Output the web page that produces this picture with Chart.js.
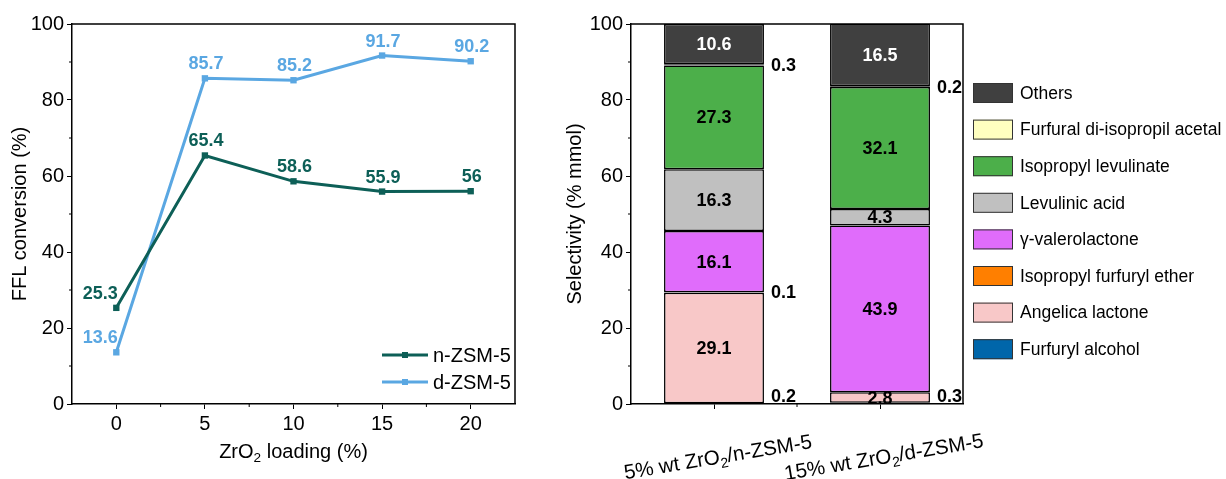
<!DOCTYPE html>
<html>
<head>
<meta charset="utf-8">
<script src="https://cdn.jsdelivr.net/npm/chart.js@4.4.1/dist/chart.umd.min.js"></script>
<style>
  body { margin: 0; background: #fff; }
  #wrap { position: relative; width: 1226px; height: 479px; }
  #left { position: absolute; left: 0; top: 0; width: 545px; height: 479px; }
  #right { position: absolute; left: 545px; top: 0; width: 681px; height: 479px; }
</style>
</head>
<body>
<div id="wrap">
  <div id="left"><canvas id="conversion-chart"></canvas></div>
  <div id="right"><canvas id="selectivity-chart"></canvas></div>
</div>
<script>
// --------------- data --------------- //

// FFL conversion vs ZrO2 loading
const loadings = [0, 5, 10, 15, 20];
const nZsmConversion = [25.3, 65.4, 58.6, 55.9, 56];
const dZsmConversion = [13.6, 85.7, 85.2, 91.7, 90.2];
const percentTicks = [0, 20, 40, 60, 80, 100];
const percentMinorTicks = [10, 30, 50, 70, 90];
const loadingMinorTicks = [2.5, 7.5, 12.5, 17.5];

// product selectivity, stacked bottom -> top
const catalysts = ['5% wt ZrO₂/n-ZSM-5', '15% wt ZrO₂/d-ZSM-5'];
const products = [
  'Furfuryl alcohol',
  'Angelica lactone',
  'Isopropyl furfuryl ether',
  'γ-valerolactone',
  'Levulinic acid',
  'Isopropyl levulinate',
  'Furfural di-isopropil acetal',
  'Others'
];
const furfurylAlcohol = [0.2, 0.3];
const angelicaLactone = [29.1, 2.8];
const isopropylEther = [0.1, 0];
const valerolactone = [16.1, 43.9];
const levulinicAcid = [16.3, 4.3];
const isopropylLevulinate = [27.3, 32.1];
const diisopropylAcetal = [0.3, 0.2];
const others = [10.6, 16.5];

const FONT = '"Liberation Sans", Arial, sans-serif';
const TEAL = '#0d5f57';
const SKY = '#5aa7e2';

Chart.defaults.font.family = FONT;
Chart.defaults.color = '#000';

// draws text, turning '₂' into a real lowered subscript
function drawRich(ctx, text, x, y, size, align) {
  const parts = text.split('₂');
  const subSize = size * 0.68;
  const font = size + 'px ' + FONT;
  const subFont = subSize + 'px ' + FONT;
  let total = 0;
  parts.forEach((p, i) => {
    ctx.font = font;
    total += ctx.measureText(p).width;
    if (i < parts.length - 1) {
      ctx.font = subFont;
      total += ctx.measureText('2').width;
    }
  });
  let cx = align === 'center' ? x - total / 2 : x;
  ctx.textAlign = 'left';
  ctx.textBaseline = 'middle';
  parts.forEach((p, i) => {
    ctx.font = font;
    ctx.fillText(p, cx, y);
    cx += ctx.measureText(p).width;
    if (i < parts.length - 1) {
      ctx.font = subFont;
      ctx.fillText('2', cx, y + size * 0.32);
      cx += ctx.measureText('2').width;
    }
  });
}

// frame + minor ticks
function frameAndMinor(xMinor, yMinor) {
  return {
    id: 'frameAndMinor',
    afterDraw(chart) {
      const { ctx, chartArea: a, scales } = chart;
      ctx.save();
      ctx.strokeStyle = '#000';
      ctx.lineWidth = 1.5;
      ctx.beginPath();
      ctx.moveTo(a.left, a.top);
      ctx.lineTo(a.right, a.top);
      ctx.lineTo(a.right, a.bottom);
      ctx.stroke();
      ctx.lineWidth = 1;
      ctx.beginPath();
      xMinor(chart).forEach(px => {
        ctx.moveTo(px, a.bottom);
        ctx.lineTo(px, a.bottom + 3);
      });
      yMinor.forEach(v => {
        const py = scales.y.getPixelForValue(v);
        ctx.moveTo(a.left, py);
        ctx.lineTo(a.left - 3, py);
      });
      ctx.stroke();
      ctx.restore();
    }
  };
}

const axisGrid = { display: true, drawOnChartArea: false, tickLength: 5, color: '#000', lineWidth: 1 };
const axisBorder = { display: true, color: '#000', width: 1.5 };

// --------------- conversion line chart --------------- //

const conversionLabels = {
  id: 'conversionLabels',
  afterDatasetsDraw(chart) {
    const { ctx } = chart;
    ctx.save();
    ctx.font = 'bold 18px ' + FONT;
    ctx.textAlign = 'center';
    ctx.textBaseline = 'middle';
    chart.data.datasets.forEach((ds, di) => {
      ctx.fillStyle = ds.borderColor;
      chart.getDatasetMeta(di).data.forEach((pt, i) => {
        const dx = i === 0 ? -16 : 1;
        ctx.fillText(String(ds.data[i].y), pt.x + dx, pt.y - 14);
      });
    });
    ctx.restore();
  }
};

const conversionDecor = {
  id: 'conversionDecor',
  afterDraw(chart) {
    const { ctx, chartArea: a } = chart;
    ctx.save();
    ctx.fillStyle = '#000';
    // legend
    chart.data.datasets.forEach((ds, i) => {
      const y = a.bottom - 49 + i * 27;
      ctx.strokeStyle = ds.borderColor;
      ctx.lineWidth = 3;
      ctx.beginPath();
      ctx.moveTo(a.right - 133, y);
      ctx.lineTo(a.right - 87, y);
      ctx.stroke();
      ctx.fillStyle = ds.borderColor;
      ctx.fillRect(a.right - 113, y - 3, 6, 6);
      ctx.fillStyle = '#000';
      ctx.font = '20px ' + FONT;
      ctx.textAlign = 'left';
      ctx.textBaseline = 'middle';
      ctx.fillText(ds.label, a.right - 82, y + 1);
    });
    // axis titles
    drawRich(ctx, 'ZrO₂ loading (%)', (a.left + a.right) / 2, 452, 20, 'center');
    ctx.translate(20, (a.top + a.bottom) / 2);
    ctx.rotate(-Math.PI / 2);
    ctx.font = '20px ' + FONT;
    ctx.textAlign = 'center';
    ctx.textBaseline = 'middle';
    ctx.fillText('FFL conversion (%)', 0, 0);
    ctx.restore();
  }
};

const conversionChart = new Chart(document.getElementById('conversion-chart'), {
  type: 'line',
  data: {
    datasets: [
      {
        label: 'n-ZSM-5',
        data: loadings.map((x, i) => ({ x: x, y: nZsmConversion[i] })),
        borderColor: TEAL,
        backgroundColor: TEAL,
        borderWidth: 3,
        pointStyle: 'rect',
        pointRadius: 4.5,
        pointBorderWidth: 0,
      },
      {
        label: 'd-ZSM-5',
        data: loadings.map((x, i) => ({ x: x, y: dZsmConversion[i] })),
        borderColor: SKY,
        backgroundColor: SKY,
        borderWidth: 3,
        pointStyle: 'rect',
        pointRadius: 4.5,
        pointBorderWidth: 0,
      }
    ]
  },
  options: {
    responsive: true,
    maintainAspectRatio: false,
    animation: false,
    layout: { padding: { top: 24, right: 30, left: 0, bottom: 0 } },
    plugins: {
      legend: { display: false },
      tooltip: { enabled: false }
    },
    scales: {
      x: {
        type: 'linear',
        min: -2.5,
        max: 22.5,
        afterBuildTicks: s => { s.ticks = loadings.map(v => ({ value: v })); },
        afterFit: s => { s.height = 75; },
        ticks: { font: { size: 20 }, padding: 3, maxRotation: 0 },
        grid: axisGrid,
        border: axisBorder
      },
      y: {
        min: 0,
        max: 100,
        afterBuildTicks: s => { s.ticks = percentTicks.map(v => ({ value: v })); },
        afterFit: s => { s.width = 72; },
        ticks: { font: { size: 20 }, padding: 3 },
        grid: axisGrid,
        border: axisBorder
      }
    }
  },
  plugins: [
    frameAndMinor(chart => loadingMinorTicks.map(v => chart.scales.x.getPixelForValue(v)), percentMinorTicks),
    conversionLabels,
    conversionDecor
  ]
});

// --------------- selectivity stacked bar chart --------------- //

const selectivitySeries = [
  { data: furfurylAlcohol, color: '#0066aa' },
  { data: angelicaLactone, color: '#f8c8c8' },
  { data: isopropylEther, color: '#ff7f00' },
  { data: valerolactone, color: '#e06cfb' },
  { data: levulinicAcid, color: '#c0c0c0' },
  { data: isopropylLevulinate, color: '#4caf4a' },
  { data: diisopropylAcetal, color: '#ffffc0' },
  { data: others, color: '#404040' }
];

const selectivityLabels = {
  id: 'selectivityLabels',
  afterDatasetsDraw(chart) {
    const { ctx, chartArea: a } = chart;
    ctx.save();
    ctx.font = 'bold 18px ' + FONT;
    ctx.textBaseline = 'middle';
    chart.data.datasets.forEach((ds, di) => {
      chart.getDatasetMeta(di).data.forEach((bar, i) => {
        const v = ds.data[i];
        if (!v) return;
        const yMid = (bar.y + bar.base) / 2;
        if (v >= 1) {
          ctx.fillStyle = ds.label === 'Others' ? '#fff' : '#000';
          ctx.textAlign = 'center';
          ctx.fillText(String(v), bar.x, yMid + 1);
        } else {
          ctx.fillStyle = '#000';
          ctx.textAlign = 'left';
          ctx.fillText(String(v), bar.x + bar.width / 2 + 7, Math.min(yMid + 1, a.bottom - 7));
        }
      });
    });
    ctx.restore();
  }
};

const selectivityDecor = {
  id: 'selectivityDecor',
  afterDraw(chart) {
    const { ctx, chartArea: a, scales } = chart;
    ctx.save();
    // legend, top item = last dataset
    const items = chart.data.datasets.slice().reverse();
    items.forEach((ds, i) => {
      const y = a.top + 69 + i * 36.6;
      ctx.fillStyle = ds.backgroundColor;
      ctx.fillRect(a.right + 10, y - 10, 40, 20);
      ctx.strokeStyle = '#333';
      ctx.lineWidth = 1;
      ctx.strokeRect(a.right + 10.5, y - 9.5, 39, 19);
      ctx.fillStyle = '#000';
      ctx.font = '17.5px ' + FONT;
      ctx.textAlign = 'left';
      ctx.textBaseline = 'middle';
      ctx.fillText(ds.label, a.right + 57, y + 1);
    });
    // rotated category labels
    chart.data.labels.forEach((lab, i) => {
      const x = scales.x.getPixelForValue(i);
      ctx.save();
      ctx.translate(x + 4, 458);
      ctx.rotate(-9.5 * Math.PI / 180);
      ctx.fillStyle = '#000';
      drawRich(ctx, lab, 0, 0, 20.5, 'center');
      ctx.restore();
    });
    // y title
    ctx.translate(30, (a.top + a.bottom) / 2);
    ctx.rotate(-Math.PI / 2);
    ctx.fillStyle = '#000';
    ctx.font = '20px ' + FONT;
    ctx.textAlign = 'center';
    ctx.textBaseline = 'middle';
    ctx.fillText('Selectivity (% mmol)', 0, 0);
    ctx.restore();
  }
};

const selectivityChart = new Chart(document.getElementById('selectivity-chart'), {
  type: 'bar',
  data: {
    labels: catalysts,
    datasets: selectivitySeries.map((s, i) => ({
      label: products[i],
      data: s.data,
      backgroundColor: s.color,
      borderColor: '#000',
      borderWidth: 1.5,
      borderSkipped: false,
      barPercentage: 1,
      categoryPercentage: 0.602,
    }))
  },
  options: {
    responsive: true,
    maintainAspectRatio: false,
    animation: false,
    layout: { padding: { top: 24, right: 263, left: 0, bottom: 0 } },
    plugins: {
      legend: { display: false },
      tooltip: { enabled: false }
    },
    scales: {
      x: {
        stacked: true,
        afterFit: s => { s.height = 75; },
        ticks: { display: false },
        grid: Object.assign({}, axisGrid, { offset: false }),
        border: axisBorder
      },
      y: {
        stacked: true,
        min: 0,
        max: 100,
        afterBuildTicks: s => { s.ticks = percentTicks.map(v => ({ value: v })); },
        afterFit: s => { s.width = 86; },
        ticks: { font: { size: 20 }, padding: 3 },
        grid: axisGrid,
        border: axisBorder
      }
    }
  },
  plugins: [
    frameAndMinor(chart => {
      const x = chart.scales.x;
      return [(x.getPixelForValue(0) + x.getPixelForValue(1)) / 2];
    }, percentMinorTicks),
    selectivityLabels,
    selectivityDecor
  ]
});
</script>
</body>
</html>
